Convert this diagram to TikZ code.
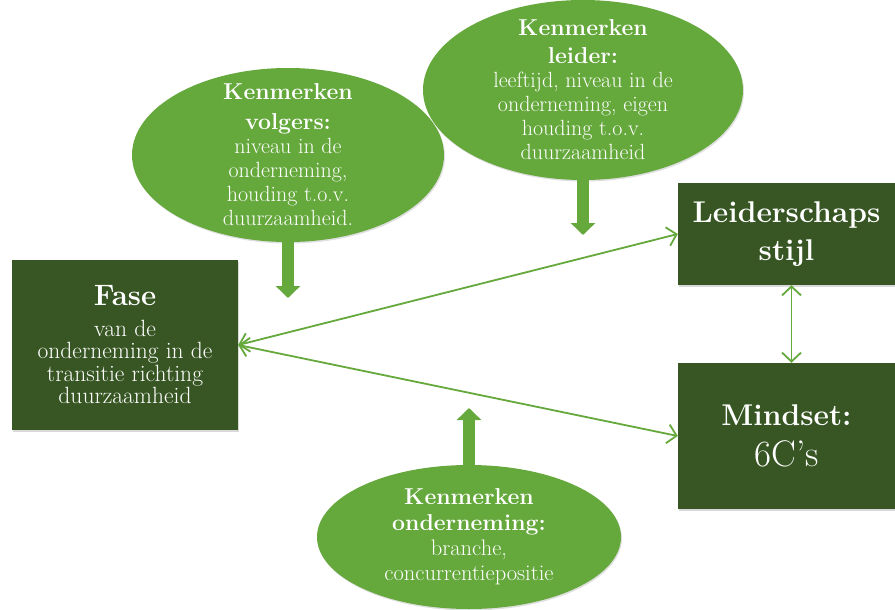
\documentclass[tikz,border=0pt]{standalone}
\definecolor{dGreen}{HTML}{375623}
\definecolor{lGreen}{HTML}{65A83C}
\usepackage{tikz}
\usetikzlibrary{positioning,arrows.meta,shapes.geometric,shadows}
\newcommand{\kop}[1]{{\fontsize{23}{26}\selectfont\bfseries #1}}
\tikzset{
 blok/.style={fill=dGreen, text=white, align=center, inner sep=0pt, drop shadow={shadow xshift=1pt, shadow yshift=-1.5pt, opacity=.3}},
 bol/.style={ellipse, fill=lGreen, inner sep=0pt, drop shadow={shadow xshift=1pt, shadow yshift=-1.5pt, opacity=.25}},
 boltekst/.style={text=white, align=center, inner sep=0pt},
 pijl/.style={draw=lGreen, line width=1.8pt, {Straight Barb[length=9pt,width=19pt]}-{Straight Barb[length=9pt,width=19pt]}},
 dikpijl/.style={draw=lGreen, line width=12pt, -{Triangle[length=12pt,width=24pt]}, drop shadow={shadow xshift=1pt, shadow yshift=-1pt, opacity=.2}},
}

\begin{document}
\begin{tikzpicture}[x=1pt,y=-1pt]
\useasboundingbox (0,0) rectangle (895,610);
% vakken
\node[blok, minimum width=226pt, minimum height=170pt, font=\fontsize{23.5}{22.5}\selectfont] (fase) at (125,345) {{\fontsize{29.5}{32}\selectfont\bfseries Fase}\\[8pt] van de\\ onderneming in de\\ transitie richting\\ duurzaamheid};
\node[blok, minimum width=217pt, minimum height=102pt, font=\fontsize{30}{38}\selectfont\bfseries] (lstijl) at (786.5,234) {Leiderschaps\\ stijl};
\node[blok, minimum width=217pt, minimum height=146pt, font=\fontsize{30}{41}\selectfont] (mindset) at (786.5,436) {{\bfseries Mindset:}\\ {\fontsize{37}{41}\selectfont 6C’s}};
% kenmerken
\node[bol, minimum width=312pt, minimum height=174pt] (volgers) at (288,155) {};
\node[boltekst, font=\fontsize{22}{24}\selectfont] (volgerstxt) at (volgers.center) {\kop{Kenmerken}\\[6pt] \kop{volgers:}\\ niveau in de\\ onderneming,\\ houding t.o.v.\\ duurzaamheid.};
\node[bol, minimum width=320pt, minimum height=180pt] (leider) at (583,90) {};
\node[boltekst, font=\fontsize{22}{24}\selectfont] (leidertxt) at (leider.center) {\kop{Kenmerken}\\[4pt] \kop{leider:}\\ leeftijd, niveau in de\\ onderneming, eigen\\ houding t.o.v.\\ duurzaamheid};
\node[bol, minimum width=304pt, minimum height=144pt] (onderneming) at (469,537) {};
\node[boltekst, font=\fontsize{22.5}{25}\selectfont] (ondernemingtxt) at (onderneming.center) {\kop{Kenmerken}\\[1pt] \kop{onderneming:}\\ branche,\\ concurrentiepositie};
% pijlen
\coordinate (vtip) at (288,298);
\coordinate (ltip) at (583,235);
\coordinate (otip) at (469,408);
\draw[dikpijl] ([yshift=6pt]volgers.south) -- (vtip);
\draw[dikpijl] ([yshift=6pt]leider.south) -- (ltip);
\draw[dikpijl] ([yshift=-6pt]onderneming.north) -- (otip);
\draw[pijl] (fase.east) -- (lstijl.west);
\draw[pijl] (fase.east) -- (mindset.west);
\draw[pijl] ([xshift=5pt]lstijl.south) -- ([xshift=5pt]mindset.north);
\end{tikzpicture}
\end{document}
